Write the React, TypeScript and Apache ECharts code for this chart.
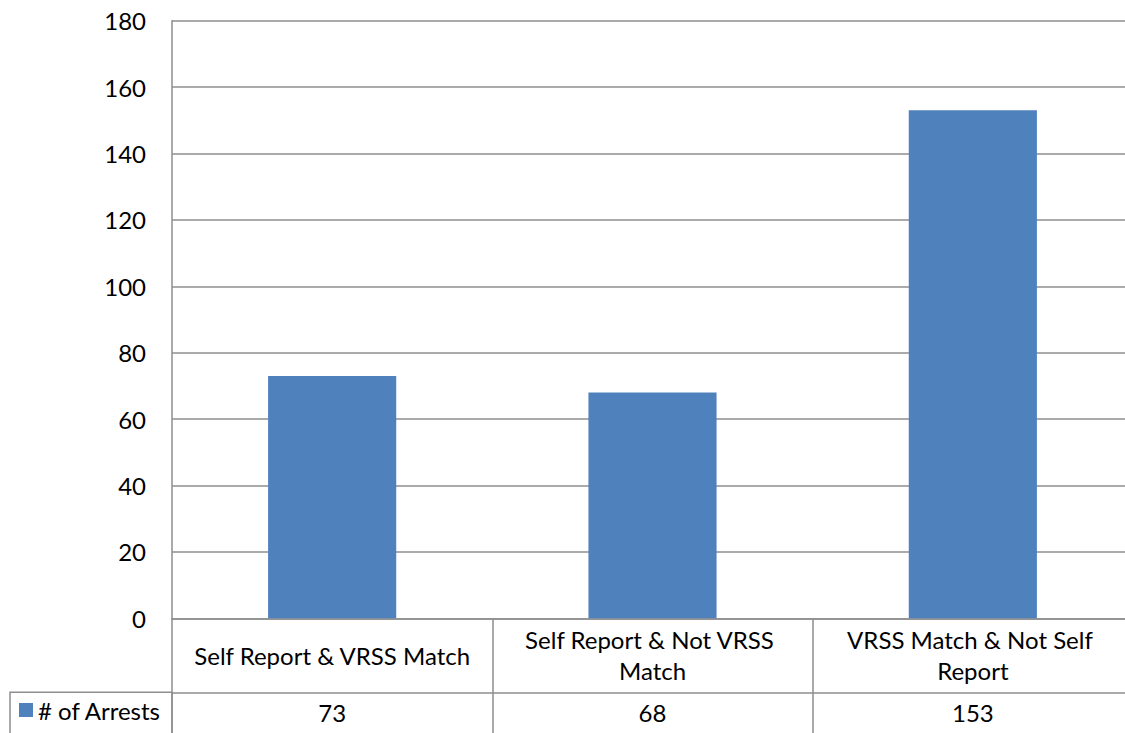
import React, { useEffect, useRef } from "react";
import * as echarts from "echarts";

const categories = [
  "Self Report & VRSS Match",
  "Self Report & Not VRSS Match",
  "VRSS Match & Not Self Report",
];
const arrests = [73, 68, 153];
const seriesName = "# of Arrests";
const yMin = 0;
const yMax = 180;
const yInterval = 20;

const FONT = "Lato";
const FS = 24;
const LINE = "#8e8e8e";
const BAR = "#4f81bd";

export default function App() {
  const ref = useRef<HTMLDivElement>(null);
  useEffect(() => {
    if (!ref.current) return;
    const chart = echarts.init(ref.current, null, { renderer: "svg" });
    chart.setOption({
      animation: false,
      backgroundColor: "#ffffff",
      textStyle: { fontFamily: FONT },
      grid: {
        left: 172,
        top: 20.7,
        width: 961,
        height: 597.6,
        containLabel: false,
        outerBoundsMode: "none",
      },
      legend: {
        data: [seriesName],
        icon: "rect",
        left: 19,
        top: 698,
        padding: 0,
        itemWidth: 14,
        itemHeight: 14,
        itemGap: 0,
        textStyle: { fontFamily: FONT, fontSize: FS, color: "#000" },
      },
      xAxis: [
        {
          type: "category",
          data: categories,
          position: "bottom",
          boundaryGap: true,
          axisLine: { show: true, lineStyle: { color: LINE, width: 1.5 } },
          axisTick: {
            show: true,
            interval: 0,
            length: 120,
            lineStyle: { color: LINE, width: 1.5 },
          },
          axisLabel: {
            interval: 0,
            margin: 37,
            verticalAlign: "middle",
            width: 290,
            overflow: "break",
            lineHeight: 31,
            fontFamily: FONT,
            fontSize: FS,
            color: "#000",
            hideOverlap: false,
          },
          splitLine: { show: false },
        },
        {
          type: "category",
          data: categories,
          position: "bottom",
          offset: 74,
          boundaryGap: true,
          axisLine: { show: true, lineStyle: { color: LINE, width: 1.5 } },
          axisTick: { show: false },
          axisLabel: {
            interval: 0,
            margin: 20.5,
            verticalAlign: "middle",
            fontFamily: FONT,
            fontSize: FS,
            color: "#000",
            formatter: (_v: string, i: number) => String(arrests[i]),
          },
        },
      ],
      yAxis: {
        type: "value",
        min: yMin,
        max: yMax,
        interval: yInterval,
        axisLine: { show: true, lineStyle: { color: LINE, width: 1.5 } },
        axisTick: { show: false },
        axisLabel: {
          margin: 26,
          fontFamily: FONT,
          fontSize: FS,
          color: "#000",
        },
        splitLine: { show: true, lineStyle: { color: LINE, width: 1.5 } },
      },
      graphic: [
        {
          type: "rect",
          shape: { x: 10, y: 692.3, width: 162, height: 60 },
          style: { fill: "none", stroke: LINE, lineWidth: 1.5 },
          silent: true,
        },
      ],
      series: [
        {
          name: seriesName,
          type: "bar",
          xAxisIndex: 0,
          data: arrests,
          barWidth: "40%",
          itemStyle: { color: BAR },
        },
      ],
    });
    return () => chart.dispose();
  }, []);
  return (
    <div
      ref={ref}
      style={{ position: "absolute", left: 0, top: 0, width: 1125, height: 733 }}
    />
  );
}
